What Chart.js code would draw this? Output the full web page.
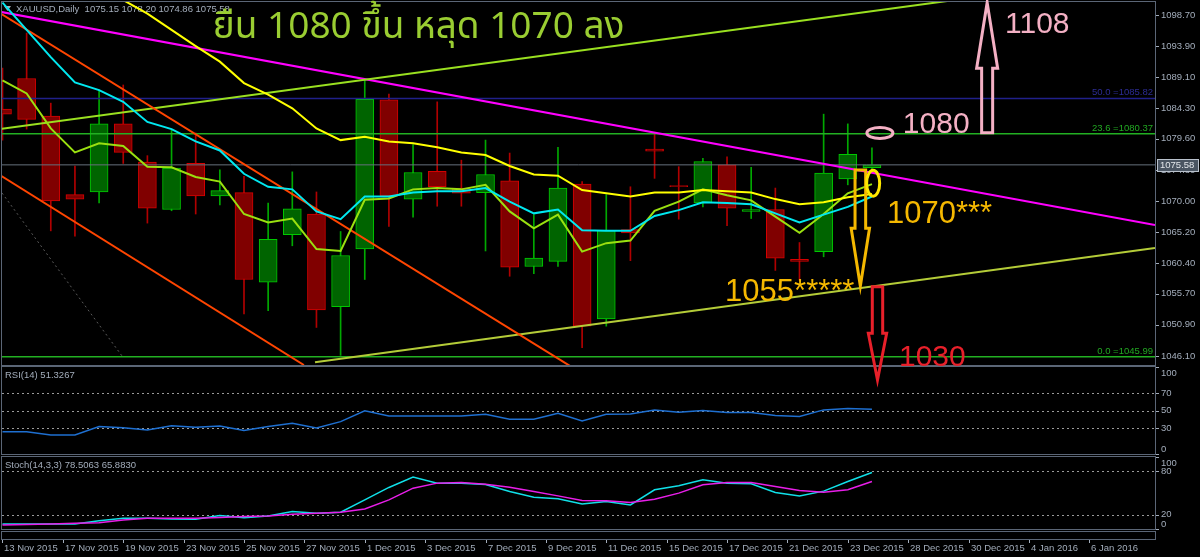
<!DOCTYPE html>
<html>
<head>
<meta charset="utf-8">
<script src="https://cdn.jsdelivr.net/npm/chart.js@4.4.1/dist/chart.umd.min.js"></script>
<style>
  html, body { margin: 0; padding: 0; background: #000; width: 1200px; height: 557px; overflow: hidden; }
  canvas { position: absolute; left: 0; top: 0; }
</style>
</head>
<body>
<canvas id="rsiChart" width="1200" height="557"></canvas>
<canvas id="stochChart" width="1200" height="557"></canvas>
<canvas id="mainChart" width="1200" height="557"></canvas>
<script>
// XAUUSD daily, one candle per bar index (0 = leftmost, partly hidden)
const openPrices = [1084.2, 1088.9, 1083.1, 1071.0, 1071.4, 1081.9, 1076.0, 1068.7, 1075.8, 1070.8, 1071.3, 1057.5, 1064.8, 1068.0, 1053.7, 1062.6, 1085.6, 1070.3, 1074.6, 1072.0, 1071.3, 1073.1, 1059.9, 1060.7, 1072.6, 1051.8, 1065.6, 1078.0, 1072.4, 1069.7, 1075.6, 1068.4, 1068.7, 1061.0, 1062.2, 1073.4, 1075.15];
const highPrices = [1090.5, 1095.9, 1085.1, 1075.4, 1087.1, 1087.9, 1077.0, 1081.0, 1080.5, 1074.8, 1073.8, 1069.7, 1074.5, 1071.4, 1065.3, 1088.7, 1086.5, 1078.7, 1085.3, 1076.3, 1079.4, 1077.4, 1067.9, 1078.3, 1073.0, 1071.0, 1072.2, 1080.6, 1075.3, 1076.6, 1076.8, 1075.2, 1072.0, 1063.6, 1083.4, 1081.9, 1078.2];
const lowPrices = [1079.4, 1081.1, 1065.4, 1064.6, 1069.7, 1075.8, 1066.6, 1068.5, 1068.0, 1069.4, 1052.6, 1053.1, 1063.1, 1050.5, 1046.2, 1057.9, 1066.1, 1067.5, 1069.2, 1069.2, 1062.3, 1058.4, 1058.8, 1059.9, 1047.4, 1050.7, 1060.8, 1073.5, 1067.2, 1069.1, 1066.2, 1067.3, 1059.3, 1057.8, 1061.4, 1072.5, 1074.86];
const closePrices = [1083.4, 1082.6, 1070.0, 1070.3, 1081.9, 1077.5, 1068.9, 1075.1, 1070.8, 1071.6, 1057.9, 1064.1, 1068.8, 1053.2, 1061.6, 1085.7, 1070.8, 1074.4, 1072.2, 1071.2, 1074.1, 1059.8, 1061.2, 1072.0, 1050.7, 1065.5, 1065.1, 1077.7, 1072.2, 1076.1, 1068.9, 1068.7, 1061.2, 1060.7, 1074.3, 1077.2, 1075.58];

// moving averages
const maCyan = [1100.6, 1096.4, 1092.2, 1088.3, 1087.1, 1085.3, 1082.2, 1081.1, 1079.2, 1077.8, 1074.2, 1072.2, 1071.8, 1068.4, 1067.2, 1070.7, 1070.7, 1071.3, 1071.5, 1071.5, 1072.0, 1069.9, 1068.1, 1068.7, 1065.5, 1065.4, 1065.4, 1067.7, 1068.6, 1069.8, 1069.7, 1069.5, 1068.1, 1066.7, 1067.9, 1069.1, 1070.7];
const maLime = [1088.6, 1086.6, 1081.2, 1077.5, 1078.9, 1078.5, 1075.3, 1075.2, 1073.7, 1073.0, 1068.0, 1066.7, 1067.3, 1062.6, 1062.3, 1070.2, 1070.4, 1071.8, 1072.0, 1071.8, 1072.5, 1068.4, 1065.8, 1067.9, 1062.2, 1063.5, 1063.9, 1068.5, 1069.9, 1071.8, 1070.9, 1070.1, 1067.6, 1065.1, 1068.0, 1071.2, 1072.6];
const maYellow = [1113.4, 1110.9, 1108.4, 1106.0, 1103.5, 1101.0, 1098.9, 1096.4, 1093.9, 1091.5, 1088.2, 1086.4, 1084.3, 1081.2, 1079.4, 1079.9, 1079.2, 1078.9, 1078.3, 1077.5, 1077.1, 1075.4, 1074.1, 1073.9, 1071.7, 1071.2, 1070.7, 1071.3, 1071.3, 1071.7, 1071.5, 1071.3, 1070.3, 1069.5, 1069.8, 1070.6, 1071.1];

// indicators
const rsiValues = [25.7, 25.7, 21.9, 21.9, 31.5, 30.3, 27.7, 32.6, 30.8, 32.3, 26.9, 31.5, 35.4, 30.0, 37.2, 49.6, 43.8, 43.8, 43.8, 43.8, 45.7, 40.0, 40.0, 46.9, 38.0, 45.7, 46.1, 50.7, 48.0, 49.9, 47.6, 47.6, 44.2, 43.0, 50.7, 52.2, 51.3];
const stochMain = [7.0, 7.0, 7.0, 7.0, 11.6, 14.9, 14.9, 14.0, 13.5, 18.6, 15.8, 18.1, 24.2, 21.9, 23.3, 40.5, 57.7, 72.1, 63.7, 63.7, 61.9, 52.1, 44.2, 41.9, 34.9, 38.1, 33.5, 54.4, 60.0, 68.4, 63.7, 62.8, 50.7, 46.0, 52.6, 66.0, 78.5];
const stochSignal = [5.6, 6.1, 7.0, 7.9, 8.8, 12.6, 14.9, 14.9, 14.9, 15.8, 17.2, 18.1, 20.5, 21.9, 23.3, 27.9, 40.5, 56.7, 63.7, 64.6, 62.3, 58.1, 52.1, 46.0, 39.5, 39.1, 36.7, 41.4, 49.8, 61.4, 64.6, 64.6, 59.0, 53.5, 51.2, 54.4, 65.9];
const rsiReading = "51.3267";
const stochReadings = ["78.5063", "65.8830"];

// axes
const tickDates = ["13 Nov 2015", "17 Nov 2015", "19 Nov 2015", "23 Nov 2015", "25 Nov 2015", "27 Nov 2015", "1 Dec 2015", "3 Dec 2015", "7 Dec 2015", "9 Dec 2015", "11 Dec 2015", "15 Dec 2015", "17 Dec 2015", "21 Dec 2015", "23 Dec 2015", "28 Dec 2015", "30 Dec 2015", "4 Jan 2016", "6 Jan 2016"];
const tickBars = [0, 2.5, 5, 7.5, 10, 12.5, 15, 17.5, 20, 22.5, 25, 27.5, 30, 32.5, 35, 37.5, 40, 42.5, 45];
const priceTicks = [1098.70, 1093.90, 1089.10, 1084.30, 1079.60, 1074.80, 1070.00, 1065.20, 1060.40, 1055.70, 1050.90, 1046.10];
const rsiTicks = [100, 70, 50, 30, 0];
const rsiLevels = [70, 50, 30];
const stochTicks = [100, 80, 20, 0];
const stochLevels = [80, 20];

// fibonacci levels and trend lines (bar index, price)
const fibValues = [1085.82, 1080.37, 1045.99];
const fibNames = ["50.0", "23.6", "0.0"];
const magentaLine = [[-0.11, 1099.2], [47.72, 1066.31]];
const upperGreenLine = [[-0.11, 1081.12], [47.72, 1105.18]];
const lowerGreenLine = [[12.94, 1045.13], [47.72, 1062.76]];
const orangeLineA = [[-0.11, 1099.01], [23.5, 1044.56]];
const orangeLineB = [[-0.11, 1074.02], [12.48, 1044.71]];
const dottedLine = [[-0.02, 1071.24], [4.95, 1046.1]];

const X_MIN = -0.02, X_MAX = 47.72;
const PRICE_MIN = 1044.71, PRICE_MAX = 1100.70;

const AXIS_TEXT = "#a3adbb";
const BORDER = "#5b6676";
const FONT = "'Liberation Sans', Arial, sans-serif";
const THAI_FONT = "'Noto Sans Thai', Tahoma, 'DejaVu Sans', 'Liberation Sans', sans-serif";

const texts = [
  { text: "ยืน 1080 ขึ้น หลุด 1070 ลง", bar: 8.71, price: 1095.08, color: "#9acd32", size: 37, font: THAI_FONT },
  { text: "1108", bar: 41.51, price: 1095.88, color: "#f4b0c4", size: 30, font: FONT },
  { text: "1080", bar: 37.28, price: 1080.54, color: "#f4b0c4", size: 30, font: FONT },
  { text: "1070***", bar: 36.62, price: 1066.66, color: "#f5b800", size: 31, font: FONT },
  { text: "1055*****", bar: 29.92, price: 1054.63, color: "#f5b800", size: 31, font: FONT },
  { text: "1030", bar: 37.12, price: 1044.6, color: "#e8202a", size: 30, font: FONT },
];
const arrows = [
  { bar: 40.77, tip: 1100.6, headBase: 1090.48, tail: 1080.54, headHalf: 0.435, shaftHalf: 0.228, color: "#f4b0c4" },
  { bar: 35.52, tip: 1056.9, headBase: 1065.8, tail: 1074.79, headHalf: 0.38, shaftHalf: 0.22, color: "#f5b800" },
  { bar: 36.23, tip: 1042.4, headBase: 1049.6, tail: 1056.79, headHalf: 0.38, shaftHalf: 0.215, color: "#e8202a" },
];
const ellipses = [
  { bar: 36.33, price: 1080.5, rBars: 0.54, rPrice: 0.85, color: "#f4b0c4" },
  { bar: 36.05, price: 1072.74, rBars: 0.27, rPrice: 2.0, color: "#ffe800" },
];

Chart.defaults.font.family = FONT;
Chart.defaults.animation = false;

const isUp = openPrices.map((o, i) => closePrices[i] >= o);
const pts = (arr) => arr.map((v, i) => ({ x: i, y: v }));
const seg = (pair) => pair.map(([x, y]) => ({ x, y }));

function lineSet(data, color, width = 2, extra = {}) {
  return { type: "line", data, borderColor: color, borderWidth: width, pointRadius: 0, tension: 0, fill: false, order: 1, ...extra };
}

function xAxis() {
  return { type: "linear", min: X_MIN, max: X_MAX, display: false, offset: false, grid: { offset: false } };
}

function drawFrame(ctx, a) {
  ctx.save();
  ctx.strokeStyle = BORDER;
  ctx.lineWidth = 1;
  ctx.strokeRect(a.left - 0.5, a.top - 0.5, a.width + 1, a.height + 1);
  ctx.restore();
}

function drawYLabels(chart, values, fmt) {
  const { ctx, chartArea: a, scales: { y } } = chart;
  ctx.save();
  ctx.font = `9.5px ${FONT}`;
  ctx.fillStyle = AXIS_TEXT;
  ctx.strokeStyle = AXIS_TEXT;
  ctx.textBaseline = "middle";
  values.forEach((v) => {
    const py = y.getPixelForValue(v);
    const ty = Math.min(Math.max(py, a.top + 6), a.bottom - 5);
    ctx.beginPath();
    ctx.moveTo(a.right + 1, Math.round(py) + 0.5);
    ctx.lineTo(a.right + 4, Math.round(py) + 0.5);
    ctx.stroke();
    ctx.fillText(fmt(v), a.right + 6, ty);
  });
  ctx.restore();
}

function drawLevels(chart, levels) {
  const { ctx, chartArea: a, scales: { y } } = chart;
  ctx.save();
  ctx.strokeStyle = "#9a9a9a";
  ctx.lineWidth = 1;
  ctx.setLineDash([2, 3]);
  levels.forEach((v) => {
    const py = Math.round(y.getPixelForValue(v)) + 0.5;
    ctx.beginPath();
    ctx.moveTo(a.left, py);
    ctx.lineTo(a.right, py);
    ctx.stroke();
  });
  ctx.restore();
}

function drawCaption(ctx, text, x, y) {
  ctx.save();
  ctx.font = `9.5px ${FONT}`;
  ctx.fillStyle = AXIS_TEXT;
  ctx.textBaseline = "middle";
  ctx.fillText(text, x, y);
  ctx.restore();
}

const mainDecor = {
  id: "mainDecor",
  beforeDatasetsDraw(chart) {
    const { ctx, chartArea: a } = chart;
    const last = openPrices.length - 1;
    drawCaption(ctx, `XAUUSD,Daily  ${openPrices[last].toFixed(2)} ${highPrices[last].toFixed(2)} ${lowPrices[last].toFixed(2)} ${closePrices[last].toFixed(2)}`, a.left + 14, a.top + 7);
    ctx.save();
    ctx.fillStyle = AXIS_TEXT;
    ctx.beginPath();
    ctx.moveTo(a.left + 2, a.top + 4);
    ctx.lineTo(a.left + 9, a.top + 4);
    ctx.lineTo(a.left + 5.5, a.top + 9);
    ctx.closePath();
    ctx.fill();
    ctx.restore();
  },
  afterDatasetsDraw(chart) {
    const { ctx, chartArea: a, scales: { x, y } } = chart;
    const fibColors = ["#2c2c94", "#22a822", "#22a822"];

    ctx.save();
    ctx.font = `9.5px ${FONT}`;
    ctx.textAlign = "right";
    ctx.textBaseline = "bottom";
    fibValues.forEach((v, i) => {
      ctx.fillStyle = fibColors[i];
      ctx.fillText(`${fibNames[i]} =${v.toFixed(2)}`, a.right - 2, y.getPixelForValue(v) - 1);
    });
    ctx.restore();

    drawFrame(ctx, a);
    drawYLabels(chart, priceTicks, (v) => v.toFixed(2));

    // bid price box
    const last = closePrices[closePrices.length - 1];
    const py = Math.round(y.getPixelForValue(last));
    ctx.save();
    ctx.fillStyle = "#4a5562";
    ctx.fillRect(a.right + 2, py - 6, 42, 13);
    ctx.strokeStyle = "#b9c1cc";
    ctx.strokeRect(a.right + 2.5, py - 5.5, 41, 12);
    ctx.font = `9.5px ${FONT}`;
    ctx.fillStyle = "#e2e6ea";
    ctx.textBaseline = "middle";
    ctx.fillText(last.toFixed(2), a.right + 5, py + 0.5);
    ctx.restore();

    // hand drawn annotations
    ctx.save();
    ctx.lineWidth = 3;
    ctx.lineJoin = "miter";
    arrows.forEach((ar) => {
      const cx = x.getPixelForValue(ar.bar);
      const hw = x.getPixelForValue(ar.bar + ar.headHalf) - cx;
      const sw = x.getPixelForValue(ar.bar + ar.shaftHalf) - cx;
      const tip = y.getPixelForValue(ar.tip);
      const base = y.getPixelForValue(ar.headBase);
      const tail = y.getPixelForValue(ar.tail);
      ctx.strokeStyle = ar.color;
      ctx.beginPath();
      ctx.moveTo(cx, tip);
      ctx.lineTo(cx + hw, base);
      ctx.lineTo(cx + sw, base);
      ctx.lineTo(cx + sw, tail);
      ctx.lineTo(cx - sw, tail);
      ctx.lineTo(cx - sw, base);
      ctx.lineTo(cx - hw, base);
      ctx.closePath();
      ctx.stroke();
    });
    ellipses.forEach((el) => {
      const cx = x.getPixelForValue(el.bar);
      const cy = y.getPixelForValue(el.price);
      const rx = x.getPixelForValue(el.bar + el.rBars) - cx;
      const ry = cy - y.getPixelForValue(el.price + el.rPrice);
      ctx.strokeStyle = el.color;
      ctx.beginPath();
      ctx.ellipse(cx, cy, rx, ry, 0, 0, Math.PI * 2);
      ctx.stroke();
    });
    texts.forEach((t) => {
      ctx.font = `${t.size}px ${t.font}`;
      ctx.fillStyle = t.color;
      ctx.textBaseline = "alphabetic";
      ctx.fillText(t.text, x.getPixelForValue(t.bar), y.getPixelForValue(t.price));
    });
    ctx.restore();
  },
};

const wickColors = isUp.map((u) => (u ? "#00a800" : "#b00000"));
const bodyFill = isUp.map((u) => (u ? "#006400" : "#800000"));
const bodyLine = isUp.map((u) => (u ? "#00c800" : "#d40000"));

new Chart(document.getElementById("mainChart"), {
  type: "line",
  data: {
    datasets: [
      {
        type: "bar",
        data: lowPrices.map((l, i) => ({ x: i, y: [l, highPrices[i]] })),
        backgroundColor: wickColors,
        barThickness: 1,
        grouped: false,
        order: 20,
      },
      {
        type: "bar",
        data: openPrices.map((o, i) => ({ x: i, y: [o, closePrices[i]] })),
        backgroundColor: bodyFill,
        borderColor: bodyLine,
        borderWidth: 1,
        borderSkipped: false,
        barThickness: 18,
        grouped: false,
        order: 19,
      },
      lineSet(pts(maYellow), "#ffff00"),
      lineSet(pts(maCyan), "#00e8f0"),
      lineSet(pts(maLime), "#9ae010"),
      lineSet(seg(dottedLine), "#5a5a5a", 1, { borderDash: [2, 3] }),
      lineSet(seg(orangeLineA), "#ff4500"),
      lineSet(seg(orangeLineB), "#ff4500"),
      lineSet(seg(upperGreenLine), "#9ae020"),
      lineSet(seg(lowerGreenLine), "#b4cc38"),
      lineSet(seg(magentaLine), "#ff00ff"),
      lineSet([{ x: X_MIN, y: fibValues[0] }, { x: X_MAX, y: fibValues[0] }], "#20208a", 1.5),
      lineSet([{ x: X_MIN, y: fibValues[1] }, { x: X_MAX, y: fibValues[1] }], "#22b022", 1.5),
      lineSet([{ x: X_MIN, y: fibValues[2] }, { x: X_MAX, y: fibValues[2] }], "#22b022", 1.5),
      lineSet([{ x: X_MIN, y: closePrices[closePrices.length - 1] }, { x: X_MAX, y: closePrices[closePrices.length - 1] }], "#66707c", 1),
    ],
  },
  options: {
    responsive: false,
    events: [],
    layout: { padding: { left: 2, right: 45, top: 2, bottom: 192 } },
    plugins: { legend: { display: false }, tooltip: { enabled: false } },
    scales: {
      x: xAxis(),
      y: { type: "linear", min: PRICE_MIN, max: PRICE_MAX, display: false, beginAtZero: false },
    },
  },
  plugins: [mainDecor],
});

const rsiDecor = {
  id: "rsiDecor",
  beforeDatasetsDraw(chart) {
    const { ctx, chartArea: a } = chart;
    drawLevels(chart, rsiLevels);
    drawCaption(ctx, `RSI(14) ${rsiReading}`, a.left + 3, a.top + 8);
  },
  afterDraw(chart) {
    drawFrame(chart.ctx, chart.chartArea);
    drawYLabels(chart, rsiTicks, (v) => String(v));
  },
};

new Chart(document.getElementById("rsiChart"), {
  type: "line",
  data: { datasets: [lineSet(pts(rsiValues), "#1e6fd0", 1.5)] },
  options: {
    responsive: false,
    events: [],
    layout: { padding: { left: 2, right: 45, top: 367, bottom: 103 } },
    plugins: { legend: { display: false }, tooltip: { enabled: false } },
    scales: { x: xAxis(), y: { type: "linear", min: 0, max: 100, display: false } },
  },
  plugins: [rsiDecor],
});

const stochDecor = {
  id: "stochDecor",
  beforeDatasetsDraw(chart) {
    const { ctx, chartArea: a } = chart;
    drawLevels(chart, stochLevels);
    drawCaption(ctx, `Stoch(14,3,3) ${stochReadings[0]} ${stochReadings[1]}`, a.left + 3, a.top + 8);
  },
  afterDraw(chart) {
    const { ctx, chartArea: a, scales: { x } } = chart;
    drawFrame(ctx, a);
    drawYLabels(chart, stochTicks, (v) => String(v));
    ctx.save();
    ctx.strokeStyle = BORDER;
    ctx.strokeRect(a.left - 0.5, a.bottom + 2.5, a.width + 1, 8);
    ctx.strokeStyle = AXIS_TEXT;
    ctx.fillStyle = AXIS_TEXT;
    ctx.font = `9.5px ${FONT}`;
    ctx.textBaseline = "middle";
    tickBars.forEach((b, i) => {
      const px = Math.round(x.getPixelForValue(b)) + 0.5;
      ctx.beginPath();
      ctx.moveTo(px, a.bottom + 11);
      ctx.lineTo(px, a.bottom + 14);
      ctx.stroke();
      ctx.fillText(tickDates[i], px + 1.5, a.bottom + 19);
    });
    ctx.restore();
  },
};

new Chart(document.getElementById("stochChart"), {
  type: "line",
  data: {
    datasets: [
      lineSet(pts(stochSignal), "#e81ee8", 1.5),
      lineSet(pts(stochMain), "#10e0e8", 1.5),
    ],
  },
  options: {
    responsive: false,
    events: [],
    layout: { padding: { left: 2, right: 45, top: 457, bottom: 28 } },
    plugins: { legend: { display: false }, tooltip: { enabled: false } },
    scales: { x: xAxis(), y: { type: "linear", min: 0, max: 100, display: false } },
  },
  plugins: [stochDecor],
});
</script>
</body>
</html>
